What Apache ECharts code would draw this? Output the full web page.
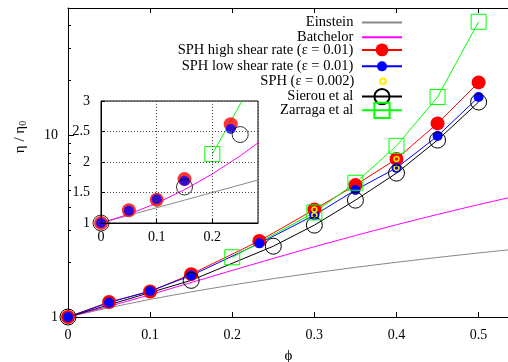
<!DOCTYPE html>
<html><head><meta charset="utf-8">
<script src="https://cdn.jsdelivr.net/npm/echarts@6/dist/echarts.min.js"></script>
<style>html,body{margin:0;padding:0;background:#fff}#c{width:508px;height:362px}</style>
</head><body><div id="c"></div>
<script>
// ---- data ----
const phiTheory = [0, 0.05, 0.1, 0.15, 0.2, 0.25, 0.3, 0.35, 0.4, 0.45, 0.5, 0.55];
const einstein  = [1, 1.125, 1.25, 1.375, 1.5, 1.625, 1.75, 1.875, 2.0, 2.125, 2.25, 2.375];
const batchelor = [1, 1.144, 1.326, 1.546, 1.804, 2.1, 2.434, 2.806, 3.216, 3.664, 4.15, 4.674];
const phiSPH  = [0, 0.05, 0.1, 0.15, 0.233, 0.3, 0.35, 0.4, 0.45, 0.5];
const sphHigh = [1.0, 1.21, 1.38, 1.72, 2.62, 3.9, 5.31, 7.4, 11.6, 19.5];
const sphLow  = [1.0, 1.2, 1.39, 1.69, 2.54, 3.63, 4.99, 6.6, 9.88, 16.2];
const phiFine = [0.3, 0.3, 0.4, 0.4];
const sphFine = [3.9, 3.63, 7.4, 6.6];
const phiSierou = [0, 0.15, 0.25, 0.3, 0.35, 0.4, 0.45, 0.5];
const sierou    = [1.0, 1.59, 2.45, 3.2, 4.39, 6.18, 9.39, 15.2];
const phiZarraga = [0.2, 0.3, 0.35, 0.4, 0.45, 0.5];
const zarraga    = [2.13, 3.76, 5.47, 8.73, 16.2, 42];
const xTicks = [0, 0.1, 0.2, 0.3, 0.4, 0.5];
const yMajor = [1, 10];
const yMinor = [2, 3, 4, 5, 6, 7, 8, 9, 20, 30, 40];
const legendNames = ['Einstein', 'Batchelor', 'SPH high shear rate (\u03b5 = 0.01)',
  'SPH low shear rate (\u03b5 = 0.01)', 'SPH (\u03b5 = 0.002)', 'Sierou et al', 'Zarraga et al'];
const legendHeights = [12, 12, 16, 12.5, 7, 19, 19];
const legendShift = [0, 0, 0, 0, 0, 3, 2];

const F = 'Liberation Serif';
const pts = (xs, ys) => xs.map((x, i) => [x, ys[i]]);
const black = '#000';
const tickFont = {color: black, fontFamily: F, fontSize: 14};

const chart = echarts.init(document.getElementById('c'), null, {renderer: 'canvas'});

const clear = 'rgba(0,0,0,0)';
const mainSeries = [
  {name: legendNames[0], type: 'line', data: pts(phiTheory, einstein), symbol: 'none',
   lineStyle: {color: '#888', width: 1}, itemStyle: {color: '#888'}},
  {name: legendNames[1], type: 'line', data: pts(phiTheory, batchelor), symbol: 'none',
   lineStyle: {color: '#ff00ff', width: 1}, itemStyle: {color: '#ff00ff'}},
  {name: legendNames[2], type: 'line', data: pts(phiSPH, sphHigh), symbol: 'circle', symbolSize: 14,
   lineStyle: {color: '#ff0000', width: 1}, itemStyle: {color: '#ff0000'}},
  {name: legendNames[3], type: 'line', data: pts(phiSPH, sphLow), symbol: 'circle', symbolSize: 10,
   lineStyle: {color: '#0000ff', width: 1}, itemStyle: {color: '#0000ff'}},
  {name: legendNames[4], type: 'line', data: pts(phiFine, sphFine), symbol: 'circle', symbolSize: 5,
   lineStyle: {width: 0, opacity: 0}, itemStyle: {color: clear, borderColor: '#ffee00', borderWidth: 1.5}},
  {name: legendNames[5], type: 'line', data: pts(phiSierou, sierou), symbol: 'circle', symbolSize: 16,
   lineStyle: {color: black, width: 1}, itemStyle: {color: clear, borderColor: black, borderWidth: 1}},
  {name: legendNames[6], type: 'line', data: pts(phiZarraga, zarraga), symbol: 'rect', symbolSize: 15,
   lineStyle: {color: '#00ff00', width: 1}, itemStyle: {color: clear, borderColor: '#00ff00', borderWidth: 1}}
].map(s => Object.assign(s, {xAxisIndex: 0, yAxisIndex: 0, animation: false}));

const insetBase = {xAxisIndex: 2, yAxisIndex: 2, z: 12, animation: false, silent: true};
const insetSeries = [
  {name: 'i0', type: 'line', data: pts(phiTheory, einstein), symbol: 'none', lineStyle: {color: '#888', width: 1}},
  {name: 'i1', type: 'line', data: pts(phiTheory, batchelor), symbol: 'none', lineStyle: {color: '#ff00ff', width: 1}},
  {name: 'i2', type: 'scatter', data: pts(phiSPH, sphHigh), symbol: 'circle', symbolSize: 14, itemStyle: {color: '#ff0000'}},
  {name: 'i3', type: 'scatter', data: pts(phiSPH, sphLow), symbol: 'circle', symbolSize: 10, itemStyle: {color: '#0000ff'}},
  {name: 'i5', type: 'scatter', data: pts(phiSierou, sierou), symbol: 'circle', symbolSize: 16,
   itemStyle: {color: clear, borderColor: black, borderWidth: 1}},
  {name: 'i6', type: 'line', data: pts(phiZarraga, zarraga), symbol: 'rect', symbolSize: 15,
   lineStyle: {color: '#00ff00', width: 1}, itemStyle: {color: clear, borderColor: '#00ff00', borderWidth: 1}}
].map(s => Object.assign(s, insetBase));

const legends = legendNames.map((n, i) => ({
  orient: 'vertical', align: 'right', right: 105,
  top: 21 + 14.7 * i - Math.max(12, legendHeights[i]) / 2 + legendShift[i],
  padding: 0, itemGap: 0, itemWidth: 40, itemHeight: legendHeights[i], selectedMode: false,
  data: [i < 2 ? {name: n, itemStyle: {opacity: 0}} : n],
  formatter: nm => nm + ' ',
  textStyle: {color: black, fontFamily: F, fontSize: 14.5, lineHeight: 12}
}));

const axLine = {show: true, lineStyle: {color: black, width: 1}};

chart.setOption({
  animation: false,
  backgroundColor: '#fff',
  grid: [
    {left: 68, top: 8, right: -1, bottom: 45, outerBoundsMode: 'none', containLabel: false},
    {left: 101, top: 101, width: 157, height: 122, show: true, backgroundColor: '#fff',
     borderColor: black, borderWidth: 1, z: 10, outerBoundsMode: 'none', containLabel: false}
  ],
  legend: legends,
  xAxis: [
    {gridIndex: 0, type: 'value', min: 0, max: 0.537, position: 'bottom', axisLine: axLine,
     axisTick: {inside: true, length: 5, customValues: xTicks, lineStyle: {color: black}},
     axisLabel: Object.assign({customValues: xTicks, margin: 11}, tickFont),
     splitLine: {show: false},
     name: '\u03d5', nameLocation: 'middle', nameGap: 32,
     nameTextStyle: {color: black, fontFamily: F, fontSize: 15}},
    {gridIndex: 0, type: 'value', min: 0, max: 0.537, position: 'top', axisLine: axLine,
     axisTick: {inside: true, length: 5, customValues: xTicks, lineStyle: {color: black}},
     axisLabel: {show: false}, splitLine: {show: false}},
    {gridIndex: 1, type: 'value', min: 0, max: 0.282, interval: 0.1, position: 'bottom', z: 14,
     axisLine: axLine, axisTick: {inside: true, length: 4, lineStyle: {color: black}},
     axisLabel: Object.assign({margin: 7, showMaxLabel: false}, tickFont),
     splitLine: {show: true, lineStyle: {color: '#444', type: [1, 2], width: 1}}}
  ],
  yAxis: [
    {gridIndex: 0, type: 'log', logBase: 10, min: 1, max: 50, position: 'left', axisLine: axLine,
     axisTick: {inside: true, length: 6, customValues: yMajor, lineStyle: {color: black}},
     axisLabel: Object.assign({customValues: yMajor, margin: 10, padding: [3, 0, 0, 0]}, tickFont),
     splitLine: {show: false}, minorTick: {show: false}},
    {gridIndex: 0, type: 'log', logBase: 10, min: 1, max: 50, position: 'left', axisLine: {show: false},
     axisTick: {inside: true, length: 3, customValues: yMinor, lineStyle: {color: black}},
     axisLabel: {show: false}, splitLine: {show: false}},
    {gridIndex: 1, type: 'value', min: 1, max: 3, interval: 0.5, position: 'left', z: 14,
     axisLine: axLine, axisTick: {inside: true, length: 4, lineStyle: {color: black}},
     axisLabel: Object.assign({margin: 11, padding: [2, 0, 0, 0]}, tickFont),
     splitLine: {show: true, lineStyle: {color: '#444', type: [1, 2], width: 1}}}
  ],
  graphic: [{
    type: 'text', x: 20, y: 137, rotation: Math.PI / 2, silent: true,
    style: {text: '{a|\u03b7 / \u03b7}{b|0}', align: 'center', verticalAlign: 'middle',
      rich: {a: {fontFamily: F, fontSize: 15, fill: black},
             b: {fontFamily: F, fontSize: 10, fill: black, padding: [7, 0, 0, 0]}}}
  }],
  series: mainSeries.concat(insetSeries)
});
</script></body></html>
